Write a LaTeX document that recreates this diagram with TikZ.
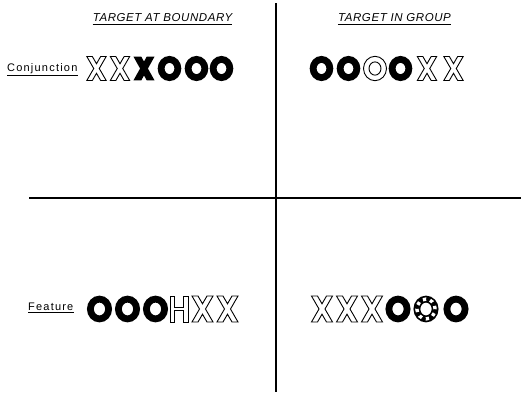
\documentclass[tikz,border=0pt]{standalone}
\usepackage{fontspec}
\setmainfont{Liberation Sans}
\tikzset{
  bO/.pic={\draw[line width=6.8pt] (0,0) ellipse [x radius=9.1pt, y radius=9.9pt];},
  bX/.pic={\fill (-11.5,-13) -- (-3,-13) -- (0,-7.6) -- (3,-13) -- (11.5,-13) -- (4.25,0) -- (11.5,13) -- (3,13) -- (0,7.6) -- (-3,13) -- (-11.5,13) -- (-4.25,0) -- cycle;},
  oX/.pic={\filldraw[fill=white, line width=0.9pt] (-10.5,-13) -- (-4.5,-13) -- (0,-5.2) -- (4.5,-13) -- (10.5,-13) -- (3,0) -- (10.5,13) -- (4.5,13) -- (0,5.2) -- (-4.5,13) -- (-10.5,13) -- (-3,0) -- cycle;},
  oH/.pic={\filldraw[fill=white, line width=0.9pt] (-9,-13) -- (-4.5,-13) -- (-4.5,-1.75) -- (4.5,-1.75) -- (4.5,-13) -- (9,-13) -- (9,13) -- (4.5,13) -- (4.5,1.75) -- (-4.5,1.75) -- (-4.5,13) -- (-9,13) -- cycle;},
  oO/.pic={\filldraw[fill=white, even odd rule, line width=0.9pt] (0,0) ellipse [x radius=12.5pt, y radius=13.25pt] (0,0) ellipse [x radius=6.5pt, y radius=7.2pt];},
  dO/.pic={\draw[line width=6.8pt] (0,0) ellipse [x radius=9.1pt, y radius=9.9pt];
           \draw[white, line width=3.4pt, dash pattern=on 3.2pt off 4.2pt] (0,0) ellipse [x radius=9.1pt, y radius=9.9pt];},
  header/.style={font=\fontsize{11.5}{13}\selectfont\itshape\addfontfeature{LetterSpace=5}, inner sep=0pt},
  rowlabel/.style={font=\fontsize{11}{13}\selectfont\addfontfeature{LetterSpace=11}, inner sep=0pt, anchor=base west},
  rule/.style={line width=2.2pt},
  uline/.style={line width=1.3pt}
}
\begin{document}
\begin{tikzpicture}[x=1pt,y=-1pt]
\useasboundingbox (0,0) rectangle (525,392);
% grid lines
\coordinate (vtop) at (276,3);
\coordinate (vbot) at (276,392);
\coordinate (hl) at (29,198);
\coordinate (hr) at (521,198);
\draw[rule] (vtop) -- (vbot);
\draw[line width=2pt] (hl) -- (hr);
% headers
\node[header, anchor=base] (h1) at (162.5,21) {TARGET AT BOUNDARY};
\node[header, anchor=base] (h2) at (394.5,21) {TARGET IN GROUP};
\draw[uline] ([yshift=-3pt]h1.south west) -- ([yshift=-3pt]h1.south east);
\draw[uline] ([yshift=-3pt]h2.south west) -- ([yshift=-3pt]h2.south east);
% row labels
\node[rowlabel] (conj) at (7,71) {Conjunction};
\node[rowlabel] (feat) at (28,310) {Feature};
\draw[uline] ([yshift=-2pt]conj.south west) -- ([yshift=-2pt]conj.south east);
\draw[uline] ([yshift=-2pt]feat.south west) -- ([yshift=-2pt]feat.south east);
% top-left: XXXOOO
\pic[scale=0.92] at (96.5,68.5) {oX};
\pic[scale=0.92] at (120,68.5) {oX};
\pic[scale=0.92] at (144,68.5) {bX};
\pic[scale=0.92] at (169.5,68.5) {bO};
\pic[scale=0.92] at (196.5,68.5) {bO};
\pic[scale=0.92] at (221.5,68.5) {bO};
% top-right: OOOOXX
\pic[scale=0.92] at (321.5,68.5) {bO};
\pic[scale=0.92] at (348.5,68.5) {bO};
\pic[scale=0.92] at (375,68.5) {oO};
\pic[scale=0.92] at (400.5,68.5) {bO};
\pic[scale=0.92] at (427,68.5) {oX};
\pic[scale=0.92] at (453.5,68.5) {oX};
% bottom-left: OOOHXX
\pic at (99.5,309) {bO};
\pic at (127.5,309) {bO};
\pic at (155.5,309) {bO};
\pic at (179,309) {oH};
\pic at (202.5,309) {oX};
\pic at (227.5,309) {oX};
% bottom-right: XXXOOO
\pic at (322,309) {oX};
\pic at (347,309) {oX};
\pic at (372,309) {oX};
\pic at (398,309) {bO};
\pic at (426,309) {dO};
\pic at (456,309) {bO};
\end{tikzpicture}
\end{document}
